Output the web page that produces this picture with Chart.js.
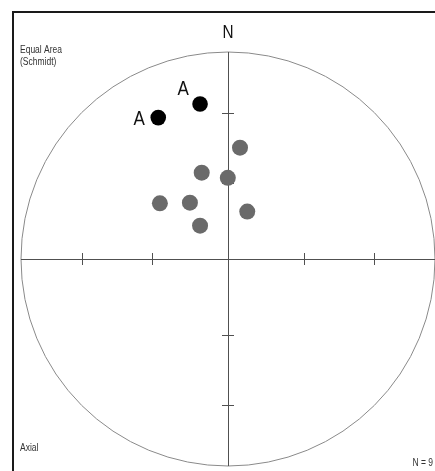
<!DOCTYPE html>
<html>
<head>
<meta charset="utf-8">
<script src="https://cdn.jsdelivr.net/npm/chart.js@4/dist/chart.umd.min.js"></script>
<style>
html,body{margin:0;padding:0;background:#fff;}
canvas{display:block;}
</style>
</head>
<body>
<canvas id="c" width="435" height="471"></canvas>
<script>
// Equal-area (Schmidt) projected coordinates, unit circle = primitive
const grayX = [0.058, -0.127, -0.001, -0.329, -0.184, -0.135, 0.093];
const grayY = [0.538, 0.417, 0.392, 0.269, 0.272, 0.161, 0.229];
const blackX = [-0.337, -0.135];
const blackY = [0.683, 0.749];
const blackLabels = ["A", "A"];
// tick radii on the axes (plunge 60 and 30 degrees in equal-area)
const tickRadii = [0.366, 0.707];
const cornerTexts = ["Equal Area", "(Schmidt)", "Axial", "N = 9"];

const toPts = (xs, ys) => xs.map((x, i) => ({x: x, y: ys[i]}));

function narrowText(ctx, txt, x, y, align) {
  const s = 0.85;
  ctx.save();
  ctx.translate(x, y);
  ctx.scale(s, 1);
  ctx.textAlign = align;
  ctx.fillText(txt, 0, 0);
  ctx.restore();
}

const netPlugin = {
  id: 'net',
  beforeDatasetsDraw(chart) {
    const ctx = chart.ctx, xs = chart.scales.x, ys = chart.scales.y;
    const cx = xs.getPixelForValue(0), cy = ys.getPixelForValue(0);
    const R = xs.getPixelForValue(1) - cx;
    ctx.save();
    // frame
    ctx.strokeStyle = '#1a1a1a';
    ctx.lineWidth = 2;
    ctx.beginPath();
    ctx.moveTo(13, 471); ctx.lineTo(13, 12); ctx.lineTo(435, 12);
    ctx.stroke();
    // primitive circle
    ctx.strokeStyle = '#8a8a8a';
    ctx.lineWidth = 1;
    ctx.beginPath();
    ctx.arc(cx, cy, R, 0, Math.PI * 2);
    ctx.stroke();
    // cross
    ctx.strokeStyle = '#505050';
    ctx.beginPath();
    ctx.moveTo(xs.getPixelForValue(-1), cy + 0.5); ctx.lineTo(xs.getPixelForValue(1), cy + 0.5);
    ctx.moveTo(cx + 0.5, ys.getPixelForValue(1)); ctx.lineTo(cx + 0.5, ys.getPixelForValue(-1));
    ctx.stroke();
    // ticks
    ctx.beginPath();
    tickRadii.forEach(r => {
      [r, -r].forEach(v => {
        const px = Math.round(xs.getPixelForValue(v)) + 0.5;
        ctx.moveTo(px, cy - 6); ctx.lineTo(px, cy + 6);
        const py = Math.round(ys.getPixelForValue(v)) + 0.5;
        ctx.moveTo(cx - 6, py); ctx.lineTo(cx + 6, py);
      });
    });
    ctx.stroke();
    ctx.restore();
  },
  afterDatasetsDraw(chart) {
    const ctx = chart.ctx, xs = chart.scales.x, ys = chart.scales.y;
    const cx = xs.getPixelForValue(0);
    ctx.save();
    ctx.fillStyle = '#111';
    ctx.textBaseline = 'alphabetic';
    ctx.font = '20px "Liberation Sans", Arial, sans-serif';
    const offs = [[-19, 7], [-17, -9]];
    blackX.forEach((x, i) => {
      const px = xs.getPixelForValue(x), py = ys.getPixelForValue(blackY[i]);
      narrowText(ctx, blackLabels[i], px + offs[i][0], py + offs[i][1], 'center');
    });
    ctx.font = '18px "Liberation Sans", Arial, sans-serif';
    narrowText(ctx, 'N', cx, 38, 'center');
    ctx.fillStyle = '#333';
    ctx.font = '10px "Liberation Sans", Arial, sans-serif';
    narrowText(ctx, cornerTexts[0], 20, 53, 'left');
    narrowText(ctx, cornerTexts[1], 20, 65, 'left');
    narrowText(ctx, cornerTexts[2], 20, 451, 'left');
    narrowText(ctx, cornerTexts[3], 433, 466, 'right');
    ctx.restore();
  }
};

new Chart(document.getElementById('c'), {
  type: 'scatter',
  data: {
    datasets: [
      {data: toPts(grayX, grayY), backgroundColor: '#6a6a6a', borderWidth: 0, pointRadius: 8, pointHoverRadius: 8},
      {data: toPts(blackX, blackY), backgroundColor: '#000', borderWidth: 0, pointRadius: 7.8, pointHoverRadius: 7.8}
    ]
  },
  options: {
    responsive: false,
    animation: false,
    devicePixelRatio: 1,
    layout: {autoPadding: false, padding: {left: 21, right: 0, top: 52, bottom: 5}},
    scales: {
      x: {type: 'linear', min: -1, max: 1, display: false},
      y: {type: 'linear', min: -1, max: 1, display: false}
    },
    plugins: {legend: {display: false}, tooltip: {enabled: false}}
  },
  plugins: [netPlugin]
});
</script>
</body>
</html>
